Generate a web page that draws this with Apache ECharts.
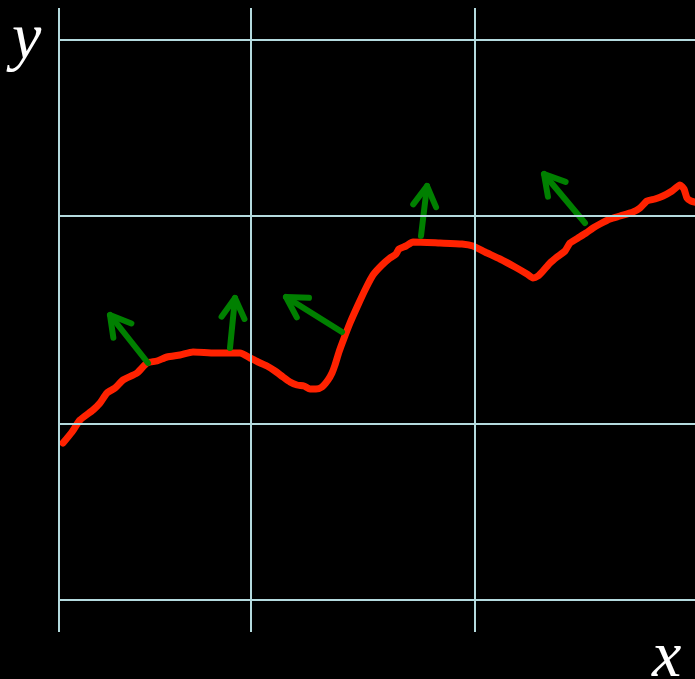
<!DOCTYPE html>
<html>
<head>
<meta charset="utf-8">
<script src="https://cdn.jsdelivr.net/npm/echarts@6/dist/echarts.min.js"></script>
<style>
  html, body { margin: 0; padding: 0; background: #000; }
  #chart { width: 695px; height: 679px; }
</style>
</head>
<body>
<div id="chart"></div>
<script>
// Curve samples (x, y)
var curveX = [4, 13, 21, 34, 41, 48, 56, 64, 78, 88, 98, 108, 121, 134, 156, 181, 191, 199, 208, 216, 224, 231, 238, 245, 251, 257, 263, 269, 273, 276, 280, 284, 291, 299, 307, 314, 323, 331, 337, 340, 347, 354, 381, 403, 414, 426, 441, 456, 468, 474, 479, 484, 491, 498, 506, 511, 519, 527, 534, 541, 551, 561, 574, 581, 588, 596, 604, 613, 621, 625, 628, 632, 639];
var curveY = [157, 168, 180, 190, 197, 207, 212, 220, 227, 237, 239, 243, 245, 248, 247, 247, 242, 238, 234, 229, 223, 218, 215, 214, 211, 211, 213, 220, 227, 235, 248, 259, 277, 295, 312, 325, 335, 342, 346, 351, 354, 358, 357, 356, 354, 348, 341, 333, 326, 322, 324, 329, 337, 343, 349, 357, 362, 367, 372, 376, 381, 384, 388, 392, 399, 401, 404, 409, 415, 411, 402, 399, 397];

// Normal vectors: foot on the curve and tip
var normalBaseX = [89, 171, 283, 362, 526];
var normalBaseY = [237, 252, 268, 364, 377];
var normalTipX  = [51, 176, 227, 368, 485];
var normalTipY  = [285, 302, 303, 414, 426];

// Reference grid lines
var gridX = [0, 192, 416];
var gridY = [0, 176, 384, 560];

var chart = echarts.init(document.getElementById('chart'));

var curveData = curveX.map(function (x, i) { return [x, curveY[i]]; });
var normalData = normalBaseX.map(function (x, i) {
  return [x, normalBaseY[i], normalTipX[i], normalTipY[i]];
});

var gridLineStyle = { color: '#b4dade', width: 2, type: 'solid' };

chart.setOption({
  backgroundColor: '#000000',
  animation: false,
  grid: { left: 59, right: 0, top: 8, bottom: 47 },
  xAxis: {
    type: 'value', min: 0, max: 636,
    axisLine: { show: false }, axisTick: { show: false },
    axisLabel: { show: false }, splitLine: { show: false }
  },
  yAxis: {
    type: 'value', min: -32, max: 592,
    axisLine: { show: false }, axisTick: { show: false },
    axisLabel: { show: false }, splitLine: { show: false }
  },
  graphic: [
    {
      type: 'text', left: 12, top: 8,
      style: { text: 'y', fill: '#ffffff', font: 'italic 66px "Liberation Serif", serif' }
    },
    {
      type: 'text', left: 652, top: 626,
      style: { text: 'x', fill: '#ffffff', font: 'italic 66px "Liberation Serif", serif' }
    }
  ],
  series: [
    {
      type: 'line',
      data: [],
      silent: true,
      markLine: {
        silent: true,
        symbol: 'none',
        label: { show: false },
        lineStyle: gridLineStyle,
        data: gridX.map(function (v) { return { xAxis: v }; })
          .concat(gridY.map(function (v) { return { yAxis: v }; }))
      }
    },
    {
      type: 'line',
      data: curveData,
      showSymbol: false,
      smooth: 0.2,
      lineStyle: { color: '#ff2200', width: 7, cap: 'round', join: 'round' },
      z: 3
    },
    {
      type: 'custom',
      data: normalData,
      z: 4,
      renderItem: function (params, api) {
        var p0 = api.coord([api.value(0), api.value(1)]);
        var p1 = api.coord([api.value(2), api.value(3)]);
        var dx = p1[0] - p0[0], dy = p1[1] - p0[1];
        var len = Math.sqrt(dx * dx + dy * dy);
        var ux = dx / len, uy = dy / len;
        var head = 23, ang = Math.PI / 6;
        function barb(sign) {
          var c = Math.cos(sign * ang), s = Math.sin(sign * ang);
          var bx = -(ux * c - uy * s), by = -(ux * s + uy * c);
          return [p1[0] + bx * head, p1[1] + by * head];
        }
        var style = { stroke: '#008000', lineWidth: 6, fill: null, lineCap: 'round', lineJoin: 'round' };
        return {
          type: 'group',
          children: [
            { type: 'polyline', shape: { points: [p0, p1] }, style: style },
            { type: 'polyline', shape: { points: [barb(1), p1, barb(-1)] }, style: style }
          ]
        };
      }
    }
  ]
});
</script>
</body>
</html>
